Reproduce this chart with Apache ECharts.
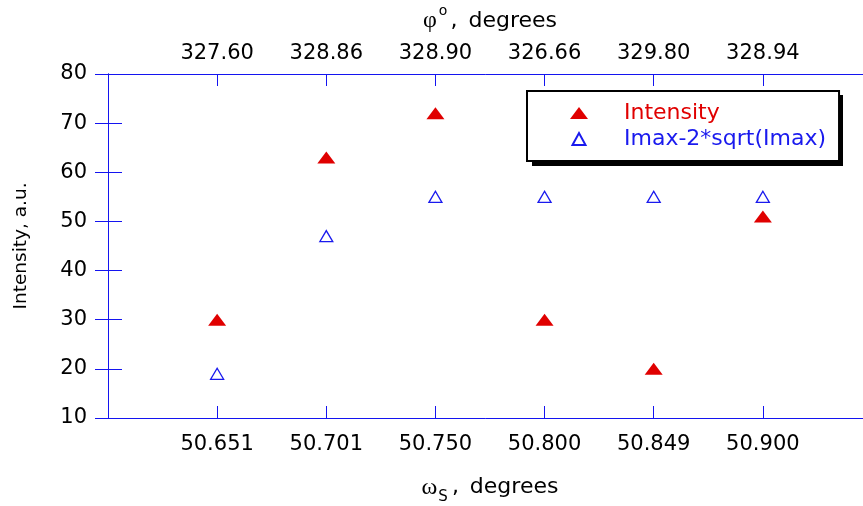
<!DOCTYPE html>
<html>
<head>
<meta charset="utf-8">
<script src="https://cdn.jsdelivr.net/npm/echarts@6/dist/echarts.min.js"></script>
<style>
  html, body { margin: 0; padding: 0; background: #fff; }
  #chart { width: 863px; height: 506px; }
</style>
</head>
<body>
<div id="chart"></div>
<script>
// Sample positions: omega_S (bottom axis) and phi (top axis) for each measurement
const omegaLabels = ['50.651', '50.701', '50.750', '50.800', '50.849', '50.900'];
const phiLabels = ['327.60', '328.86', '328.90', '326.66', '329.80', '328.94'];

// Measured intensity and the Imax - 2*sqrt(Imax) threshold at each position
const intensity = [30, 63, 72, 30, 20, 51];
const threshold = [19, 47, 55, 55, 55, 55];

// Intensity axis range
const yMin = 10;
const yMax = 80;
const yStep = 10;

const FONT = 'DejaVu Sans';
const GREEK = 'Liberation Serif';
const AXIS_BLUE = '#1414f0';
const RED = '#e00000';
const BLUE = '#1a1aee';

// Place each measurement at slot 1..6 so both axes share the same positions
const toPoints = arr => arr.map((v, i) => [i + 1, v]);

const axisCommon = {
  type: 'value',
  min: 0,
  max: omegaLabels.length + 1,
  interval: 1,
  splitLine: { show: false },
  axisLine: { show: true, lineStyle: { color: AXIS_BLUE, width: 1 } },
  axisTick: { show: true, inside: true, length: 12, lineStyle: { color: AXIS_BLUE, width: 1 } }
};

const titleRich = {
  g: { fontFamily: GREEK, fontSize: 24, color: '#000' },
  c: { fontFamily: FONT, fontSize: 22, color: '#000' },
  t: { fontFamily: FONT, fontSize: 22, color: '#000', padding: [0, 0, 0, 4] }
};

const chart = echarts.init(document.getElementById('chart'), null, { renderer: 'canvas' });

chart.setOption({
  animation: false,
  backgroundColor: '#fff',
  // the right-hand frame edge runs just past the canvas, as in the original plot
  grid: { left: 108, right: -9, top: 74, bottom: 88, containLabel: false, outerBoundsMode: 'none' },
  // hard drop shadow behind the legend frame
  graphic: [{
    type: 'rect',
    z: 3,
    silent: true,
    shape: { x: 532, y: 95, width: 311, height: 71 },
    style: { fill: '#000' }
  }],
  legend: {
    orient: 'vertical',
    left: 527,
    top: 91,
    z: 4,
    padding: [11, 13, 11, 43],
    itemWidth: 18,
    itemHeight: 12,
    itemGap: 4,
    backgroundColor: '#fff',
    borderColor: '#000',
    borderWidth: 2,
    borderRadius: 0,
    selectedMode: false,
    textStyle: { fontFamily: FONT, fontSize: 22, lineHeight: 22, padding: [0, 0, 0, 31] },
    data: [
      { name: 'Intensity', textStyle: { color: RED } },
      { name: 'Imax-2*sqrt(Imax)', textStyle: { color: BLUE } }
    ]
  },
  xAxis: [
    Object.assign({}, axisCommon, {
      position: 'bottom',
      name: '{g|ω}{sub|S}{c|, }{t|degrees}',
      nameLocation: 'middle',
      nameGap: 52,
      nameTextStyle: {
        fontFamily: FONT, fontSize: 22, color: '#000',
        rich: Object.assign({}, titleRich, {
          sub: { fontFamily: FONT, fontSize: 15, color: '#000', padding: [20, 4, 0, 1] }
        })
      },
      axisLabel: {
        margin: 16, color: '#000', fontFamily: FONT, fontSize: 21,
        formatter: v => omegaLabels[v - 1] || ''
      }
    }),
    Object.assign({}, axisCommon, {
      position: 'top',
      name: '{g|φ}{sup|o}{c|, }{t|degrees}',
      nameLocation: 'middle',
      nameGap: 36,
      nameTextStyle: {
        fontFamily: FONT, fontSize: 22, color: '#000',
        rich: Object.assign({}, titleRich, {
          sup: { fontFamily: FONT, fontSize: 14, color: '#000', padding: [0, 3, 20, 2] }
        })
      },
      axisLabel: {
        margin: 9.5, color: '#000', fontFamily: FONT, fontSize: 21,
        formatter: v => phiLabels[v - 1] || ''
      }
    })
  ],
  yAxis: [
    {
      type: 'value',
      position: 'left',
      min: yMin, max: yMax, interval: yStep,
      splitLine: { show: false },
      axisLine: { show: true, lineStyle: { color: AXIS_BLUE, width: 1 } },
      axisTick: { show: true, inside: true, length: 14, lineStyle: { color: AXIS_BLUE, width: 1 } },
      axisLabel: { margin: 21, color: '#000', fontFamily: FONT, fontSize: 21, padding: [6, 0, 0, 0] },
      name: 'Intensity, a.u.',
      nameLocation: 'middle',
      nameGap: 77,
      nameRotate: 90,
      nameTextStyle: { fontFamily: FONT, fontSize: 18.5, color: '#000' }
    },
    {
      type: 'value',
      position: 'right',
      min: yMin, max: yMax, interval: yStep,
      splitLine: { show: false },
      axisLine: { show: true, lineStyle: { color: AXIS_BLUE, width: 1 } },
      axisTick: { show: true, inside: true, length: 13, lineStyle: { color: AXIS_BLUE, width: 1 } },
      axisLabel: { show: false }
    }
  ],
  series: [
    {
      name: 'Intensity',
      type: 'scatter',
      xAxisIndex: 0,
      yAxisIndex: 0,
      symbol: 'triangle',
      symbolSize: [18, 12],
      itemStyle: { color: RED, opacity: 1 },
      data: toPoints(intensity),
      z: 3
    },
    {
      name: 'Imax-2*sqrt(Imax)',
      type: 'scatter',
      xAxisIndex: 0,
      yAxisIndex: 0,
      symbol: 'path://M0,12L6.5,0L13,12Z',
      symbolKeepAspect: true,
      symbolSize: [13, 12],
      itemStyle: { color: '#fff', borderColor: BLUE, borderWidth: 1.3, opacity: 1 },
      data: toPoints(threshold),
      z: 2
    }
  ]
});
</script>
</body>
</html>
